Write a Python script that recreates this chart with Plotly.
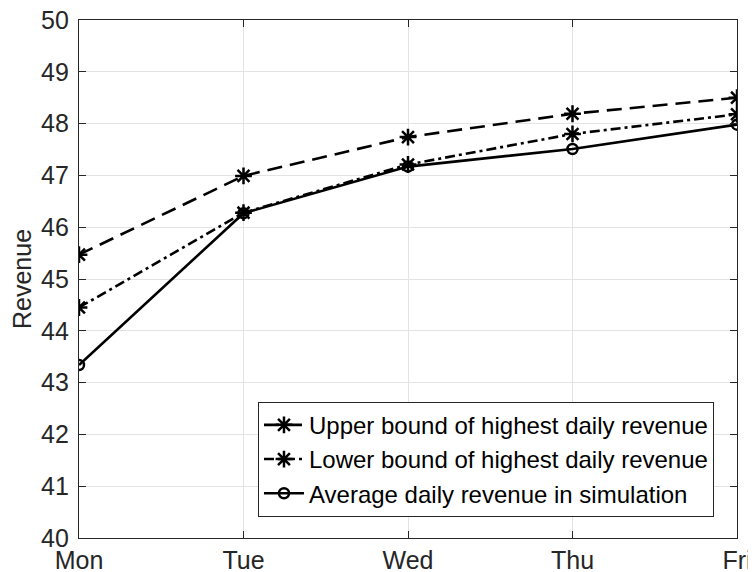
import plotly.graph_objects as go

days = ["Mon", "Tue", "Wed", "Thu", "Fri"]
upper_bound = [45.47, 46.99, 47.74, 48.19, 48.50]
lower_bound = [44.45, 46.28, 47.21, 47.80, 48.18]
avg_sim = [43.34, 46.27, 47.17, 47.51, 47.98]
y_ticks = [40, 41, 42, 43, 44, 45, 46, 47, 48, 49, 50]

names = ["Upper bound of highest daily revenue",
         "Lower bound of highest daily revenue",
         "Average daily revenue in simulation"]

fig = go.Figure()
fig.add_trace(go.Scatter(
    x=days, y=upper_bound, name=names[0], mode="lines+markers",
    line=dict(color="black", width=2.6, dash="15px,8px"),
    marker=dict(symbol="asterisk-open", size=14, color="black", line=dict(color="black", width=2.5)),
))
fig.add_trace(go.Scatter(
    x=days, y=lower_bound, name=names[1], mode="lines+markers",
    line=dict(color="black", width=2.6, dash="10px,4px,3px,4px"),
    marker=dict(symbol="asterisk-open", size=14, color="black", line=dict(color="black", width=2.5)),
))
fig.add_trace(go.Scatter(
    x=days, y=avg_sim, name=names[2], mode="lines+markers",
    line=dict(color="black", width=2.6),
    marker=dict(symbol="circle-open", size=10, color="black", line=dict(color="black", width=2.5)),
))

axis_color = "#262626"
fig.update_layout(
    width=756, height=572,
    margin=dict(l=71, r=27, t=12, b=42),
    paper_bgcolor="white", plot_bgcolor="white",
    font=dict(family="Liberation Sans, Arial, Helvetica, sans-serif", size=25, color=axis_color),
    showlegend=True,
    legend=dict(
        x=0.272, y=0.152, xanchor="left", yanchor="middle",
        bgcolor="white", bordercolor=axis_color, borderwidth=1,
        font=dict(size=24, color="black"),
        tracegroupgap=0, itemwidth=40,
    ),
    xaxis=dict(
        type="category", categoryorder="array", categoryarray=days,
        range=[0, 4], showgrid=True, gridcolor="#e3e3e3", gridwidth=1,
        showline=True, linecolor=axis_color, linewidth=1.2, mirror="ticks",
        ticks="inside", ticklen=7, tickcolor=axis_color, tickwidth=1.2,
        tickfont=dict(size=25), zeroline=False, automargin=False,
        ticklabeloverflow="allow",
    ),
    yaxis=dict(
        range=[40, 50], tickvals=y_ticks, ticktext=[str(v) for v in y_ticks],
        showgrid=True, gridcolor="#e3e3e3", gridwidth=1,
        showline=True, linecolor=axis_color, linewidth=1.2, mirror="ticks",
        ticks="inside", ticklen=7, tickcolor=axis_color, tickwidth=1.2,
        tickfont=dict(size=25), zeroline=False, automargin=False,
        ticklabelstandoff=4, ticklabeloverflow="allow",
        title=dict(text="Revenue", font=dict(size=25)),
    ),
)

fig.write_html("out.html")
